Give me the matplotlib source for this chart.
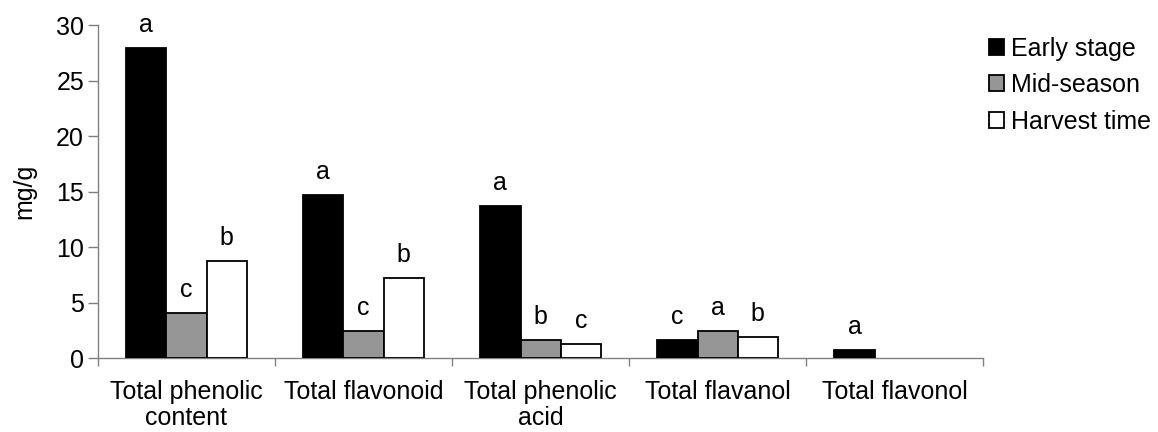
import numpy as np
import matplotlib.pyplot as plt

plt.rcParams['font.family'] = ['Liberation Sans', 'DejaVu Sans']

categories = ["Total phenolic\ncontent", "Total flavonoid", "Total phenolic\nacid",
              "Total flavanol", "Total flavonol"]
series = ["Early stage", "Mid-season", "Harvest time"]
early = [27.9, 14.7, 13.7, 1.6, 0.7]
mid = [4.1, 2.4, 1.6, 2.45, 0.0]
harvest = [8.75, 7.2, 1.3, 1.9, 0.0]
letters_early = ["a", "a", "a", "c", "a"]
letters_mid = ["c", "c", "b", "a", ""]
letters_harvest = ["b", "b", "c", "b", ""]

colors = ["black", "#969696", "white"]
fs = 18

fig = plt.figure(figsize=(11.58, 4.32), dpi=100)
ax = fig.add_axes([0.0846, 0.171, 0.7645, 0.771])

x = np.arange(len(categories))
w = 0.227
values = [early, mid, harvest]
letters = [letters_early, letters_mid, letters_harvest]
for i, (vals, col, lab, lets) in enumerate(zip(values, colors, series, letters)):
    pos = x + (i - 1) * w
    vals = np.array(vals, dtype=float)
    vals[vals == 0] = np.nan  # empty bars are not drawn
    ax.bar(pos, vals, width=w, color=col, edgecolor="black", linewidth=1.3,
           label=lab, zorder=3)
    for p, v, t in zip(pos, vals, lets):
        if t:
            ax.text(p, v + 1.0, t, ha="center", va="bottom", fontsize=fs)

ax.set_xlim(-0.5, len(categories) - 0.5)
ax.set_ylim(0, 30)
ax.set_yticks(range(0, 31, 5))
ax.tick_params(axis="y", labelsize=fs, length=7, width=1, color="#808080",
               direction="out", pad=3)
ax.set_xticks(x)
ax.set_xticklabels(categories, fontsize=fs, linespacing=1.1)
ax.tick_params(axis="x", length=0, pad=16)
ax.set_xticks(np.arange(-0.5, len(categories)), minor=True)
ax.tick_params(axis="x", which="minor", length=6, width=1, color="#808080", direction="out")
ax.set_ylabel("mg/g", fontsize=fs, labelpad=14)

for s in ["top", "right"]:
    ax.spines[s].set_visible(False)
for s in ["left", "bottom"]:
    ax.spines[s].set_color("#808080")
    ax.spines[s].set_linewidth(1)

ax.legend(loc="upper left", bbox_to_anchor=(0.995, 0.995), frameon=False, fontsize=fs,
          handlelength=0.6, handleheight=0.6, handletextpad=0.3, labelspacing=0.5,
          borderaxespad=0.0)

fig.savefig("out.png", dpi=100)
